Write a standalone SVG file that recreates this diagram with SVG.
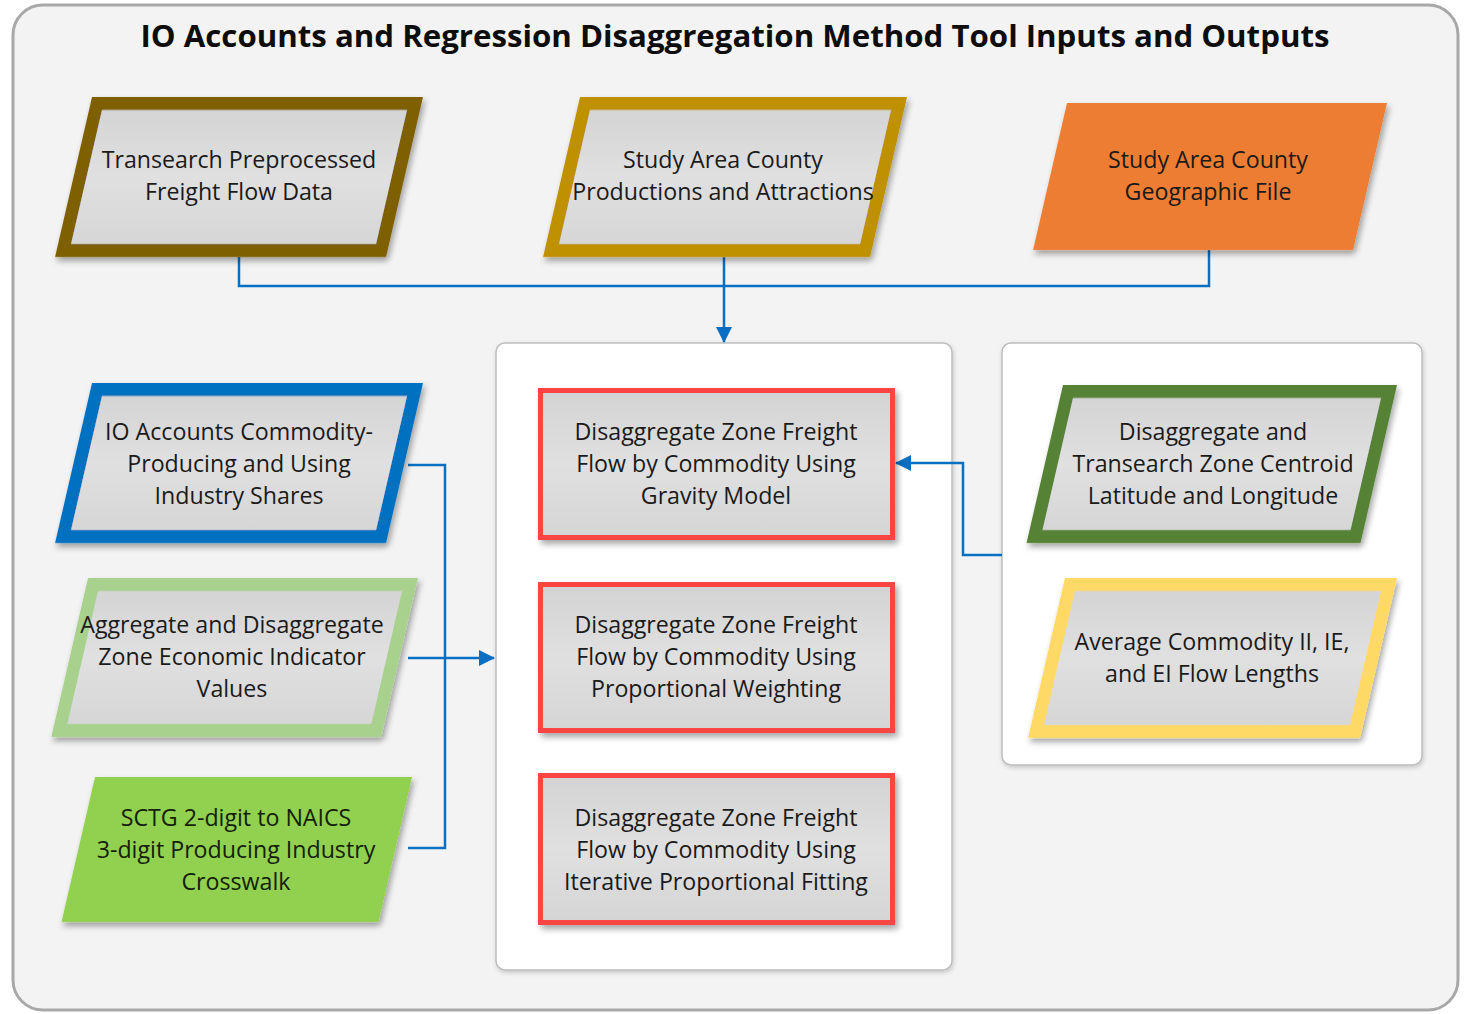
<svg xmlns="http://www.w3.org/2000/svg" width="1466" height="1014" viewBox="0 0 1466 1014">
<style>
.t{font-family:"Open Sans","Liberation Sans",sans-serif;font-size:23.2px;fill:#1a1a1a;text-anchor:middle}
.title{font-family:"Open Sans","Liberation Sans",sans-serif;font-size:30px;font-weight:bold;fill:#0d0d0d;text-anchor:middle}
.con{fill:none;stroke:#0a6fc2;stroke-width:2.5}
.box{fill:#fff;stroke:#bdbdbd;stroke-width:1.5}
.red{fill:url(#g);stroke:#fa4444;stroke-width:5}
</style>
<defs>
<linearGradient id="g" x1="0" y1="0" x2="0" y2="1">
<stop offset="0" stop-color="#d3d3d3"/>
<stop offset="0.5" stop-color="#e0e0e0"/>
<stop offset="1" stop-color="#d5d5d5"/>
</linearGradient>
<filter id="sh" x="-10%" y="-10%" width="125%" height="130%">
<feDropShadow dx="3" dy="4" stdDeviation="3" flood-color="#000" flood-opacity="0.35"/>
</filter>
<filter id="sh2" x="-5%" y="-5%" width="110%" height="110%">
<feDropShadow dx="1" dy="2" stdDeviation="2" flood-color="#000" flood-opacity="0.18"/>
</filter>
<marker id="ar" markerUnits="userSpaceOnUse" markerWidth="16" markerHeight="16" refX="15" refY="8" orient="auto">
<path d="M0,0 L16,8 L0,16 z" fill="#0a6fc2"/>
</marker>
</defs>
<rect width="1466" height="1014" fill="#fff"/>
<g id="frame">
<rect x="13" y="5" width="1445" height="1005" rx="30" fill="#f3f3f3" stroke="#a8a8a8" stroke-width="3"/>
<text class="title" x="735" y="47" textLength="1189" lengthAdjust="spacingAndGlyphs">IO Accounts and Regression Disaggregation Method Tool Inputs and Outputs</text>
</g>
<g id="center-panel"><rect class="box" x="496" y="343" width="456" height="627" rx="9" filter="url(#sh2)"/></g>
<g id="right-panel"><rect class="box" x="1002" y="343" width="420" height="422" rx="9" filter="url(#sh2)"/></g>
<g id="connectors">
<path class="con" d="M239,257 V286 H1209 V250"/>
<path class="con" d="M724,257 V342" marker-end="url(#ar)"/>
<path class="con" d="M408,465 H445 V848 H408"/>
<path class="con" d="M408,658 H494" marker-end="url(#ar)"/>
<path class="con" d="M1002,555 H963 V463 H896" marker-end="url(#ar)"/>
</g>
<g id="transearch">
<rect x="6.5" y="6.5" width="318" height="147" transform="translate(92,97) skewX(-13)" fill="url(#g)" stroke="#7f6000" stroke-width="13" filter="url(#sh)"/>
<text class="t" x="239" y="168">Transearch Preprocessed</text>
<text class="t" x="239" y="200">Freight Flow Data</text>
</g>
<g id="productions">
<rect x="6.5" y="6.5" width="314" height="147" transform="translate(580,97) skewX(-13)" fill="url(#g)" stroke="#bf9000" stroke-width="13" filter="url(#sh)"/>
<text class="t" x="723" y="168">Study Area County</text>
<text class="t" x="723" y="200">Productions and Attractions</text>
</g>
<g id="geofile">
<rect x="0" y="0" width="320" height="147" transform="translate(1067,103) skewX(-13)" fill="#ed7d31" filter="url(#sh)"/>
<text class="t" x="1208" y="168">Study Area County</text>
<text class="t" x="1208" y="200">Geographic File</text>
</g>
<g id="io-shares">
<rect x="6.5" y="6.5" width="318" height="147" transform="translate(92,383) skewX(-13)" fill="url(#g)" stroke="#0070c0" stroke-width="13" filter="url(#sh)"/>
<text class="t" x="239" y="440">IO Accounts Commodity-</text>
<text class="t" x="239" y="472">Producing and Using</text>
<text class="t" x="239" y="504">Industry Shares</text>
</g>
<g id="econ-indicators">
<rect x="6.5" y="6.5" width="317" height="146" transform="translate(88,578) skewX(-13)" fill="url(#g)" stroke="#a9d18e" stroke-width="13" filter="url(#sh)"/>
<text class="t" x="232" y="633">Aggregate and Disaggregate</text>
<text class="t" x="232" y="665">Zone Economic Indicator</text>
<text class="t" x="232" y="697">Values</text>
</g>
<g id="sctg-naics">
<rect x="0" y="0" width="317" height="145" transform="translate(95,777) skewX(-13)" fill="#92d050" filter="url(#sh)"/>
<text class="t" x="236" y="826" style="fill:#14200a">SCTG 2-digit to NAICS</text>
<text class="t" x="236" y="858" style="fill:#14200a">3-digit Producing Industry</text>
<text class="t" x="236" y="890" style="fill:#14200a">Crosswalk</text>
</g>
<g id="gravity">
<rect class="red" x="540.5" y="390.5" width="352" height="147" filter="url(#sh)"/>
<text class="t" x="716" y="440">Disaggregate Zone Freight</text>
<text class="t" x="716" y="472">Flow by Commodity Using</text>
<text class="t" x="716" y="504">Gravity Model</text>
</g>
<g id="proportional">
<rect class="red" x="540.5" y="584.5" width="352" height="146" filter="url(#sh)"/>
<text class="t" x="716" y="633">Disaggregate Zone Freight</text>
<text class="t" x="716" y="665">Flow by Commodity Using</text>
<text class="t" x="716" y="697">Proportional Weighting</text>
</g>
<g id="ipf">
<rect class="red" x="540.5" y="775.5" width="352" height="147" filter="url(#sh)"/>
<text class="t" x="716" y="826">Disaggregate Zone Freight</text>
<text class="t" x="716" y="858">Flow by Commodity Using</text>
<text class="t" x="716" y="890">Iterative Proportional Fitting</text>
</g>
<g id="centroids">
<rect x="6.5" y="6.5" width="321" height="145" transform="translate(1063,385) skewX(-13)" fill="url(#g)" stroke="#548235" stroke-width="13" filter="url(#sh)"/>
<text class="t" x="1213" y="440">Disaggregate and</text>
<text class="t" x="1213" y="472">Transearch Zone Centroid</text>
<text class="t" x="1213" y="504">Latitude and Longitude</text>
</g>
<g id="flow-lengths">
<rect x="6.5" y="6.5" width="319" height="147" transform="translate(1065,578) skewX(-13)" fill="url(#g)" stroke="#ffd966" stroke-width="13" filter="url(#sh)"/>
<text class="t" x="1212" y="650">Average Commodity II, IE,</text>
<text class="t" x="1212" y="682">and EI Flow Lengths</text>
</g>
</svg>
